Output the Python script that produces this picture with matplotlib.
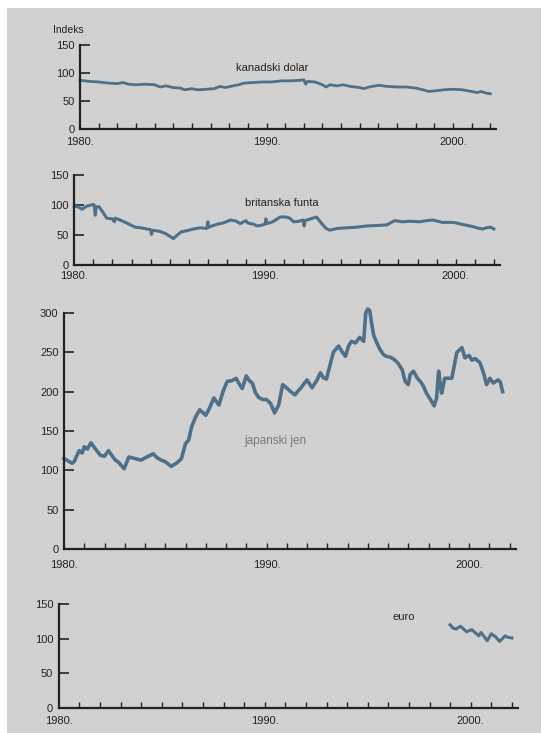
import matplotlib
matplotlib.use("Agg")
import matplotlib.pyplot as plt
from matplotlib.patches import Rectangle

plt.rcParams['font.family'] = ['Liberation Sans', 'DejaVu Sans']

# ---------------- data ----------------
cad_years = [1980.0, 1980.5, 1981.0, 1981.5, 1982.0, 1982.3, 1982.6, 1983.0, 1983.5, 1984.0,
             1984.3, 1984.6, 1985.0, 1985.4, 1985.6, 1986.0, 1986.3, 1986.8, 1987.2, 1987.5,
             1987.8, 1988.2, 1988.5, 1988.8, 1989.3, 1989.8, 1990.3, 1990.8, 1991.3, 1991.8,
             1992.0, 1992.1, 1992.2, 1992.6, 1993.0, 1993.2, 1993.4, 1993.8, 1994.1, 1994.5,
             1995.0, 1995.2, 1995.5, 1996.0, 1996.5, 1997.0, 1997.5, 1998.0, 1998.4, 1998.7,
             1999.0, 1999.5, 2000.0, 2000.5, 2001.0, 2001.3, 2001.5, 2001.8, 2002.0]
cad_values = [87, 85, 84, 82, 81, 83, 80, 79, 80, 79,
              75, 77, 74, 73, 70, 72, 70, 71, 72, 76,
              74, 77, 79, 82, 83, 84, 84, 86, 86, 87,
              88, 80, 85, 84, 79, 75, 79, 77, 79, 76,
              74, 72, 75, 78, 76, 75, 75, 73, 70, 67,
              68, 70, 71, 70, 67, 65, 67, 64, 63]

gbp_years = [1980.0, 1980.2, 1980.4, 1980.65, 1981.0, 1981.05, 1981.1, 1981.15, 1981.3, 1981.5,
             1981.7, 1982.0, 1982.1, 1982.15, 1982.4, 1982.75, 1983.0, 1983.2, 1983.5, 1983.8,
             1984.0, 1984.05, 1984.1, 1984.5, 1984.8, 1985.0, 1985.2, 1985.4, 1985.6, 1986.0,
             1986.25, 1986.6, 1986.95, 1987.0, 1987.05, 1987.3, 1987.5, 1987.8, 1988.2, 1988.5,
             1988.7, 1989.0, 1989.1, 1989.4, 1989.6, 1989.9, 1990.0, 1990.05, 1990.1, 1990.4,
             1990.8, 1991.1, 1991.3, 1991.5, 1991.8, 1992.0, 1992.05, 1992.1, 1992.4, 1992.7,
             1993.0, 1993.2, 1993.4, 1993.8, 1994.3, 1994.8, 1995.3, 1996.0, 1996.4, 1996.8,
             1997.2, 1997.6, 1998.1, 1998.5, 1998.8, 1999.3, 1999.9, 2000.3, 2000.9, 2001.1,
             2001.4, 2001.6, 2001.85, 2002.0]
gbp_values = [98, 97, 93, 98, 101, 99, 83, 97, 97, 88,
              78, 77, 72, 78, 75, 70, 66, 63, 62, 60,
              59, 51, 58, 56, 52, 48, 44, 50, 55, 58,
              60, 62, 61, 72, 63, 66, 68, 70, 75, 73,
              69, 74, 70, 68, 65, 67, 68, 77, 69, 72,
              80, 80, 78, 72, 73, 75, 65, 74, 77, 80,
              68, 61, 58, 61, 62, 63, 65, 66, 67, 74,
              72, 73, 72, 74, 75, 71, 71, 68, 64, 62,
              60, 62, 63, 60]

jpy_years = [1980.0, 1980.2, 1980.4, 1980.5, 1980.75, 1980.9, 1981.0, 1981.15, 1981.33, 1981.5,
             1981.8, 1982.0, 1982.2, 1982.5, 1982.7, 1982.97, 1983.2, 1983.5, 1983.8, 1984.1,
             1984.4, 1984.6, 1984.8, 1985.0, 1985.3, 1985.6, 1985.8, 1986.0, 1986.15, 1986.3,
             1986.5, 1986.7, 1987.0, 1987.2, 1987.4, 1987.65, 1987.85, 1988.06, 1988.3, 1988.5,
             1988.65, 1988.8, 1989.0, 1989.15, 1989.3, 1989.45, 1989.6, 1989.8, 1990.0, 1990.2,
             1990.4, 1990.6, 1990.8, 1990.94, 1991.2, 1991.4, 1991.7, 1992.0, 1992.25, 1992.5,
             1992.66, 1992.8, 1992.96, 1993.3, 1993.56, 1993.7, 1993.9, 1994.05, 1994.2, 1994.4,
             1994.6, 1994.8, 1994.9, 1995.0, 1995.1, 1995.2, 1995.3, 1995.45, 1995.6, 1995.75,
             1995.9, 1996.1, 1996.3, 1996.5, 1996.7, 1996.85, 1997.0, 1997.1, 1997.26, 1997.45,
             1997.6, 1997.75, 1997.9, 1998.1, 1998.28, 1998.4, 1998.5, 1998.6, 1998.65, 1998.8,
             1999.0, 1999.15, 1999.4, 1999.65, 1999.8, 2000.0, 2000.15, 2000.3, 2000.54, 2000.7,
             2000.87, 2001.03, 2001.2, 2001.44, 2001.55, 2001.66]
jpy_values = [115, 112, 109, 111, 125, 122, 130, 127, 135, 129,
              119, 118, 125, 114, 110, 102, 117, 115, 113, 117,
              121, 116, 113, 111, 105, 110, 115, 134, 138, 155,
              168, 177, 170, 180, 192, 183, 200, 213, 214, 217,
              210, 204, 220, 214, 211, 199, 193, 190, 190, 185,
              173, 183, 209, 206, 200, 196, 205, 215, 205, 215,
              224, 218, 216, 250, 258, 252, 245, 258, 264, 262,
              269, 264, 300, 305, 303, 285, 271, 262, 254, 248,
              245, 244, 241, 236, 228, 213, 209, 222, 226, 217,
              213, 207, 198, 190, 182, 192, 226, 205, 198, 217,
              217, 217, 250, 256, 243, 246, 240, 242, 237, 225,
              209, 217, 211, 215, 212, 200]

eur_years = [1999.0, 1999.15, 1999.3, 1999.5, 1999.8, 2000.05, 2000.4, 2000.5, 2000.8, 2001.0,
             2001.2, 2001.4, 2001.67, 2001.8, 2002.0]
eur_values = [120, 115, 114, 118, 110, 113, 104, 109, 97, 107,
              103, 96, 104, 102, 101]

series_labels = ["kanadski dolar", "britanska funta", "japanski jen", "euro"]
y_ticks_small = [0, 50, 100, 150]
y_ticks_big = [0, 50, 100, 150, 200, 250, 300]
x_label_years = [1980, 1990, 2000]

# ---------------- figure ----------------
W, H = 541, 733
BG = '#d2d1d1'
LINE = '#4f7089'
INK = '#222222'
fig = plt.figure(figsize=(W / 100, H / 100), dpi=100, facecolor=BG)
# white photo margin at top and left
fig.patches.append(Rectangle((0, 1 - 8 / H), 1, 8 / H, transform=fig.transFigure,
                             facecolor='white', edgecolor='none', zorder=0))
fig.patches.append(Rectangle((0, 0), 7 / W, 1, transform=fig.transFigure,
                             facecolor='white', edgecolor='none', zorder=0))


def make_axes(x1980, px_per_year, y0, y_top, ymax, yticks):
    xend = 2002.3
    left = x1980 / W
    width = (xend - 1980) * px_per_year / W
    bottom = 1 - y0 / H
    height = (y0 - y_top) / H
    ax = fig.add_axes([left, bottom, width, height])
    ax.set_facecolor('none')
    ax.set_xlim(1980, xend)
    ax.set_ylim(0, ymax)
    for s in ['top', 'right']:
        ax.spines[s].set_visible(False)
    for s in ['left', 'bottom']:
        ax.spines[s].set_linewidth(1.6)
        ax.spines[s].set_color(INK)
    ax.set_yticks(yticks)
    ax.set_yticklabels([str(v) for v in yticks])
    ax.tick_params(axis='y', direction='in', length=7, width=1.2, color=INK,
                   labelsize=8, labelcolor=INK, pad=4)
    years = list(range(1981, 2003))
    ax.set_xticks(years)
    ax.set_xticklabels([''] * len(years))
    ax.tick_params(axis='x', direction='in', length=4, width=1.0, color=INK)
    return ax


def add_year_labels(ax, y_px_offset):
    for yr in x_label_years:
        ax.annotate(f"{yr}.", xy=(yr, 0), xycoords='data',
                    xytext=(0, -y_px_offset * 0.72), textcoords='offset points',
                    ha='center', va='top', fontsize=8, color=INK)


# Panel 1: kanadski dolar
ax1 = make_axes(80, 18.65, 129, 45, 150, y_ticks_small)
ax1.plot(cad_years, cad_values, color=LINE, lw=2.0, solid_joinstyle='round', clip_on=False)
add_year_labels(ax1, 8)
fig.text(68 / W, 1 - 30 / H, "Indeks", ha='center', va='center', fontsize=7.5, color=INK)
fig.text(272 / W, 1 - 68 / H, series_labels[0], ha='center', va='center', fontsize=8,
         color=INK)

# Panel 2: britanska funta
ax2 = make_axes(74.3, 19.07, 265, 175, 150, y_ticks_small)
ax2.plot(gbp_years, gbp_values, color=LINE, lw=2.2, solid_joinstyle='round', clip_on=False)
add_year_labels(ax2, 6)
fig.text(282 / W, 1 - 203 / H, series_labels[1], ha='center', va='center', fontsize=8,
         color=INK)

# Panel 3: japanski jen
ax3 = make_axes(64, 20.25, 549, 313, 300, y_ticks_big)
ax3.plot(jpy_years, jpy_values, color=LINE, lw=2.6, solid_joinstyle='round', clip_on=False)
add_year_labels(ax3, 11)
fig.text(275 / W, 1 - 441 / H, series_labels[2], ha='center', va='center', fontsize=8.5,
         color='#7a7a7a')

# Panel 4: euro
ax4 = make_axes(58.7, 20.6, 708, 604, 150, y_ticks_small)
ax4.plot(eur_years, eur_values, color=LINE, lw=2.2, solid_joinstyle='round', clip_on=False)
add_year_labels(ax4, 8)
fig.text(404 / W, 1 - 617 / H, series_labels[3], ha='center', va='center', fontsize=8,
         color=INK)

fig.savefig('out.png', dpi=100, facecolor=BG)
